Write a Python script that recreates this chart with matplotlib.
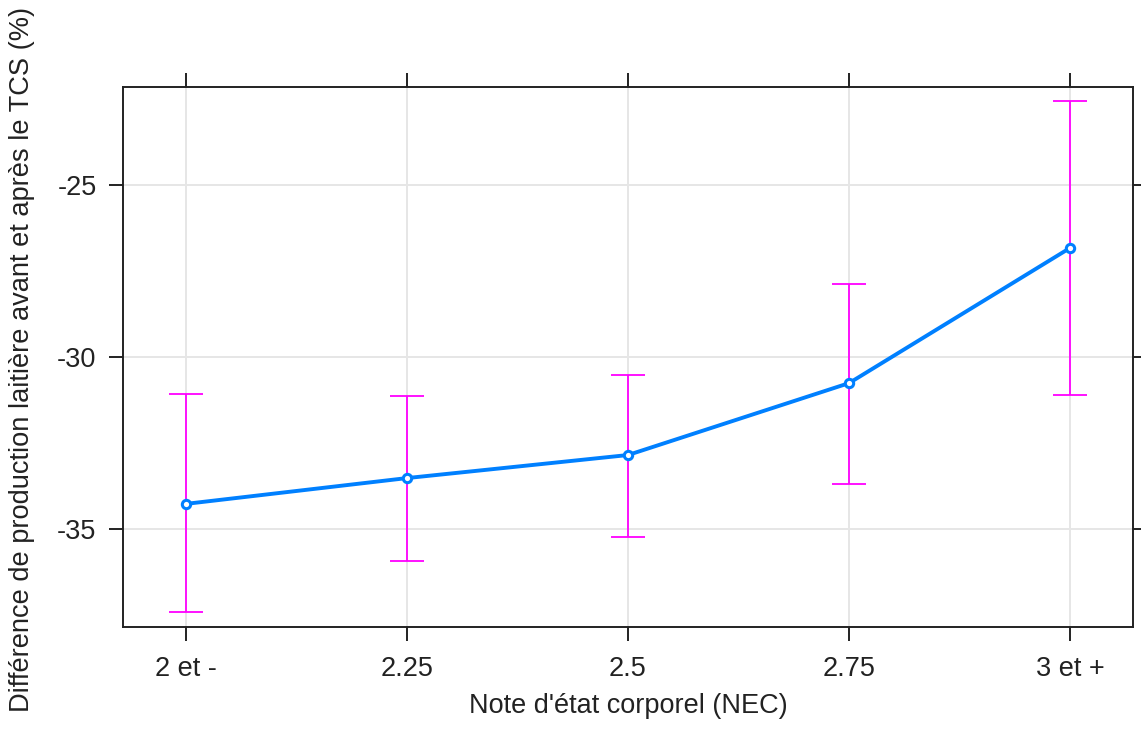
import matplotlib

matplotlib.use("Agg")
import matplotlib.pyplot as plt

plt.rcParams["font.family"] = ["Liberation Sans", "DejaVu Sans"]

# Data
categories = ["2 et -", "2.25", "2.5", "2.75", "3 et +"]
fit = [-34.27, -33.52, -32.85, -30.76, -26.83]
upper = [-31.08, -31.13, -30.52, -27.88, -22.56]
lower = [-37.41, -35.93, -35.23, -33.69, -31.10]
y_ticks = [-25, -30, -35]

x = list(range(len(categories)))
err_lo = [f - l for f, l in zip(fit, lower)]
err_hi = [u - f for f, u in zip(fit, upper)]

fig = plt.figure(figsize=(11.41, 7.31), dpi=100)
ax = fig.add_axes([123 / 1141, 1 - 627 / 731, (1133 - 123) / 1141, (627 - 87) / 731])

ax.grid(True, color="#e6e6e6", linewidth=1.4)
ax.set_axisbelow(True)

ax.errorbar(x, fit, yerr=[err_lo, err_hi], fmt="none", ecolor="#ff00ff",
            elinewidth=1.3, capsize=12, capthick=1.3, zorder=2)
ax.plot(x, fit, color="#0080ff", linewidth=2.8, marker="o", markersize=6,
        markerfacecolor="white", markeredgewidth=2.2, zorder=3)

ax.set_xlim(-0.285, 4.285)
ax.set_ylim(-37.85, -22.15)
ax.set_xticks(x)
ax.set_xticklabels(categories)
ax.set_yticks(y_ticks)
ax.set_yticklabels([str(v) for v in y_ticks])

ax.tick_params(axis="both", direction="out", length=10, width=1.4, labelsize=19.5,
               color="#222222", labelcolor="#222222")
ax.tick_params(axis="x", top=True, pad=11)
ax.tick_params(axis="y", right=True, pad=9)
for s in ax.spines.values():
    s.set_linewidth(1.4)
    s.set_color("#222222")

ax.set_xlabel("Note d'état corporel (NEC)", fontsize=19.5, color="#222222", labelpad=8)
# long label, kept just inside the figure
fig.text(22 / 1141, 1 - 359 / 731, "Différence de production laitière avant et après le TCS (%)",
         rotation=90, fontsize=19.6, color="#222222", ha="center", va="center")

fig.savefig("out.png", dpi=100)
